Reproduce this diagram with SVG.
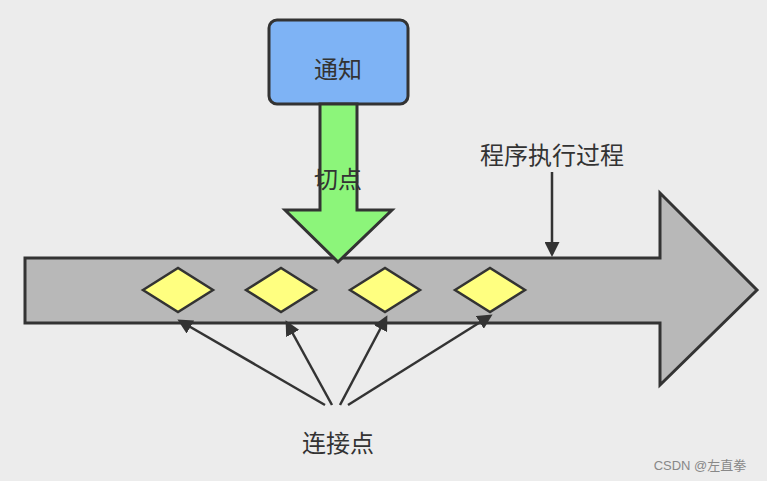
<svg xmlns="http://www.w3.org/2000/svg" width="767" height="481" viewBox="0 0 767 481">
<style>
.t{font-family:"Liberation Sans","Noto Sans CJK SC",sans-serif;font-size:24px;fill:#333;text-anchor:middle}
.s{stroke:#333;stroke-width:3}
.d{fill:#ffff80;stroke:#333;stroke-width:2.5}
.c{stroke:#333;stroke-width:2.5;fill:none;marker-end:url(#a)}
</style>
<defs><marker id="a" viewBox="0 0 10 10" refX="8" refY="5" markerWidth="6" markerHeight="6" orient="auto"><path d="M0,0L10,5L0,10z" fill="#333"/></marker></defs>
<rect width="767" height="481" fill="#ececec"/>
<g id="process"><path class="s" d="M25,258H660V193L757,290L660,385V323H25Z" fill="#b8b8b8"/></g>
<g id="advice"><rect class="s" x="269" y="20" width="139" height="84" rx="8" fill="#7eb3f5"/><text class="t" x="338" y="78">通知</text></g>
<g id="pointcut"><path class="s" d="M320,104H357V210H392L338,262L285,210H320Z" fill="#8cf57a"/><text class="t" x="338" y="188">切点</text></g>
<g id="d1"><path class="d" d="M143,290L178,268L213,290L178,312Z"/></g>
<g id="d2"><path class="d" d="M246,290L281,268L316,290L281,312Z"/></g>
<g id="d3"><path class="d" d="M350,290L385,268L420,290L385,312Z"/></g>
<g id="d4"><path class="d" d="M455,290L490,268L525,290L490,312Z"/></g>
<g id="label"><text class="t" x="552" y="164">程序执行过程</text></g>
<g id="joinlabel"><text class="t" x="338" y="452">连接点</text></g>
<g id="connectors">
<path class="c" d="M552,172V254"/>
<path class="c" d="M325,405L180,321"/>
<path class="c" d="M332,405L287,323"/>
<path class="c" d="M340,405L386,318"/>
<path class="c" d="M348,405L490,316"/>
</g>
<text x="700" y="470" font-family="Liberation Sans,Noto Sans CJK SC,sans-serif" font-size="13" fill="#888" text-anchor="middle">CSDN @左直拳</text>
</svg>
